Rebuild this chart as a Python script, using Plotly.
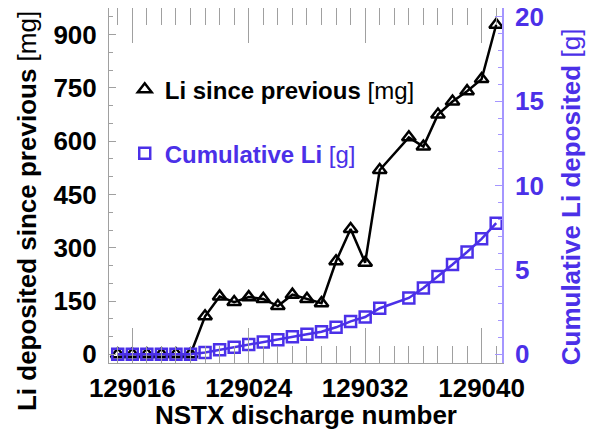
import plotly.graph_objects as go

shots = [129015, 129016, 129017, 129018, 129019, 129020, 129021, 129022, 129023,
         129024, 129025, 129026, 129027, 129028, 129029, 129030, 129031, 129032,
         129033, 129035, 129036, 129037, 129038, 129039, 129040, 129041]
li_since_prev_mg = [0, 0, 0, 0, 0, 0, 107, 163, 147, 161, 156, 136, 168, 156, 144,
                    262, 353, 258, 519, 611, 585, 675, 712, 741, 775, 928]
li_cumulative_g = [0, 0, 0, 0, 0, 0, 0.11, 0.27, 0.42, 0.58, 0.73, 0.87, 1.04, 1.19,
                   1.34, 1.60, 1.95, 2.21, 2.73, 3.34, 3.93, 4.61, 5.32, 6.06, 6.84, 7.77]

left_ticks = [0, 150, 300, 450, 600, 750, 900]
right_ticks = [0, 5, 10, 15, 20]
x_ticks = [129016, 129024, 129032, 129040]

BLUE = "rgb(75,48,232)"
LIGHTBLUE = "rgb(165,150,255)"
GRAY = "rgb(160,160,160)"
FONT = "Liberation Sans, Arial, sans-serif"

fig = go.Figure()
fig.add_trace(go.Scatter(
    x=shots, y=li_since_prev_mg, mode="lines+markers", yaxis="y",
    line=dict(color="black", width=2.5),
    marker=dict(symbol="triangle-up-open", size=12, color="black", line=dict(width=2.5)),
    showlegend=False, cliponaxis=False))
fig.add_trace(go.Scatter(
    x=shots, y=li_cumulative_g, mode="lines+markers", yaxis="y2",
    line=dict(color=BLUE, width=2.5),
    marker=dict(symbol="square-open", size=11, color=BLUE, line=dict(width=2.5)),
    showlegend=False, cliponaxis=False))

# legend-only entries (marker symbols)
fig.add_trace(go.Scatter(
    x=[None], y=[None], mode="markers", name="<b>Li since previous</b> [mg]",
    marker=dict(symbol="triangle-up-open", size=12, color="black", line=dict(width=2.5)),
    legend="legend"))
fig.add_trace(go.Scatter(
    x=[None], y=[None], mode="markers", name="<b>Cumulative Li</b> [g]", yaxis="y2",
    marker=dict(symbol="square-open", size=11, color=BLUE, line=dict(width=2.5)),
    legend="legend2"))

# The page body adds an 8px offset, so the figure is drawn 8px smaller/shifted.
fig.update_layout(
    width=586, height=424,
    margin=dict(l=101, r=92, t=0, b=69, autoexpand=False),
    paper_bgcolor="white", plot_bgcolor="white",
    font=dict(family=FONT, size=24, color="black"),
    xaxis=dict(
        range=[129014.4, 129041.4], tickvals=x_ticks,
        ticktext=[str(v) for v in x_ticks],
        ticks="inside", ticklen=35, tickwidth=1, tickcolor=GRAY,
        minor=dict(dtick=1, tick0=129016, ticks="inside", ticklen=17, tickcolor=GRAY, tickwidth=1),
        showline=True, linecolor=GRAY, linewidth=1, mirror="ticks",
        showgrid=False, zeroline=False, automargin=False,
        tickfont=dict(family=FONT, size=26, color="black", weight="bold"),
        ticklabelstandoff=2, ticklabeloverflow="allow",
    ),
    yaxis=dict(
        range=[-24.5, 975.2], tickvals=left_ticks,
        ticks="inside", ticklen=7, tickcolor=GRAY, tickwidth=1,
        minor=dict(dtick=50, tick0=0, ticks="inside", ticklen=4, tickcolor=GRAY, tickwidth=1),
        showline=True, linecolor=GRAY, linewidth=1,
        showgrid=False, zeroline=False, automargin=False,
        tickfont=dict(family=FONT, size=26, color="black", weight="bold"),
        ticklabelstandoff=6, ticklabeloverflow="allow",
    ),
    yaxis2=dict(
        range=[-0.515, 20.52], tickvals=right_ticks, overlaying="y", side="right",
        ticks="inside", ticklen=7, tickcolor=LIGHTBLUE, tickwidth=1,
        minor=dict(dtick=1, tick0=0, ticks="inside", ticklen=4, tickcolor=LIGHTBLUE, tickwidth=1),
        showline=True, linecolor=LIGHTBLUE, linewidth=1.5,
        showgrid=False, zeroline=False, automargin=False,
        tickfont=dict(family=FONT, size=26, color=BLUE, weight="bold"),
        ticklabelstandoff=6, ticklabeloverflow="allow",
    ),
    legend=dict(x=0.04, y=0.77, xanchor="left", yanchor="middle",
                bgcolor="rgba(0,0,0,0)", font=dict(family=FONT, size=24, color="black")),
    legend2=dict(x=0.04, y=0.59, xanchor="left", yanchor="middle",
                 bgcolor="rgba(0,0,0,0)", font=dict(family=FONT, size=24, color=BLUE)),
    annotations=[
        dict(text="<b>Li deposited since previous</b> [mg]", xref="paper", yref="paper",
             x=-0.207, y=0.427, textangle=-90, showarrow=False,
             xanchor="center", yanchor="middle",
             font=dict(family=FONT, size=26, color="black")),
        dict(text="<b>Cumulative Li deposited</b> [g]", xref="paper", yref="paper",
             x=1.175, y=0.469, textangle=-90, showarrow=False,
             xanchor="center", yanchor="middle",
             font=dict(family=FONT, size=26, color=BLUE)),
        dict(text="<b>NSTX discharge number</b>", xref="paper", yref="paper",
             x=0.5, y=-0.147, showarrow=False, xanchor="center", yanchor="middle",
             font=dict(family=FONT, size=26, color="black")),
    ],
)

fig.write_html("out.html")
